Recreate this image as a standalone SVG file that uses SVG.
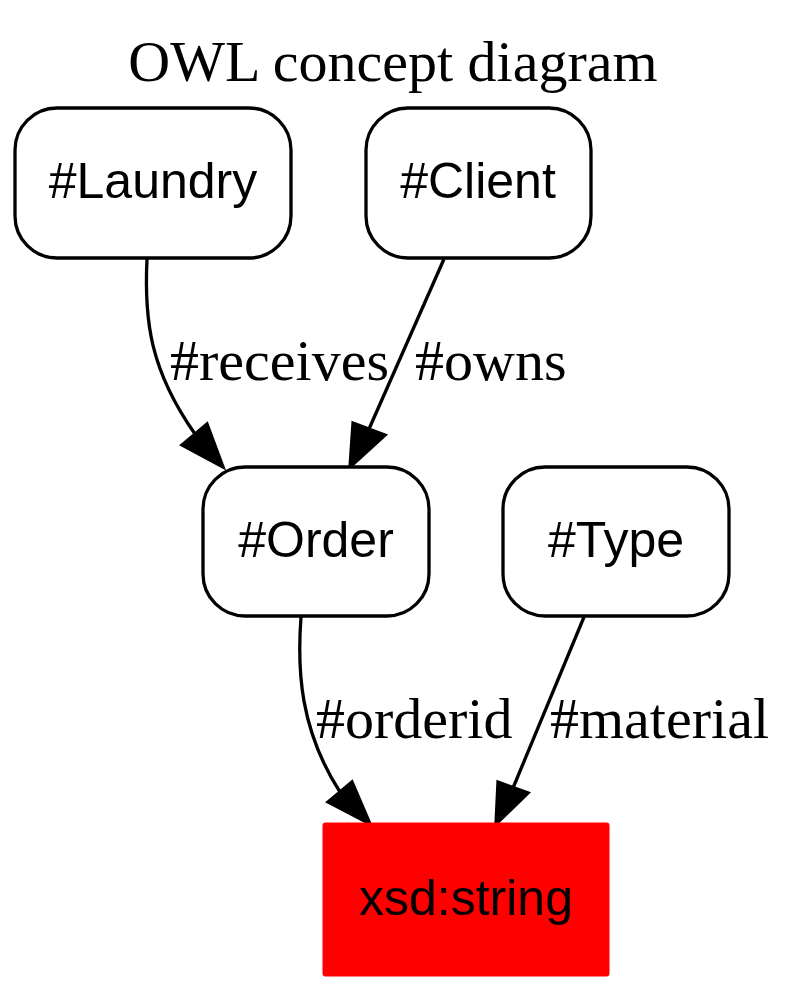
<svg xmlns="http://www.w3.org/2000/svg" width="787" height="992" viewBox="0 0 787 992">
<style>
.node{fill:#fff;stroke:#000;stroke-width:3.3}
.nl{font-family:"Liberation Sans",Arial,sans-serif;font-size:50px;text-anchor:middle;fill:#000}
.el{font-family:"Liberation Serif","Times New Roman",serif;font-size:58px;fill:#000}
.edge{fill:none;stroke:#000;stroke-width:3.3}
.ah{fill:#000;stroke:#000;stroke-width:3.3;stroke-linejoin:miter}
</style>
<rect width="787" height="992" fill="#fff"/>
<text x="393" y="81" class="el" text-anchor="middle">OWL concept diagram</text>
<g id="connectors">
<path class="edge" d="M147,259 C144,320 150,370 195,434"/>
<polygon class="ah" points="182,445 207,424 223,467"/>
<text class="el" x="170" y="380">#receives</text>
<path class="edge" d="M444,259 L369,429"/>
<polygon class="ah" points="353,423 385,435 350,467"/>
<text class="el" x="415" y="380">#owns</text>
<path class="edge" d="M301,617 C297,670 300,730 340,792"/>
<polygon class="ah" points="328,802 352,782 370,824"/>
<text class="el" x="316" y="738">#orderid</text>
<path class="edge" d="M584,617 L513,788"/>
<polygon class="ah" points="498,782 528,793 496,824"/>
<text class="el" x="550" y="738">#material</text>
</g>
<g id="laundry">
<rect class="node" x="15" y="108" width="276" height="150" rx="42"/>
<text class="nl" x="153" y="198">#Laundry</text>
</g>
<g id="client">
<rect class="node" x="366" y="108" width="225" height="150" rx="42"/>
<text class="nl" x="478" y="198">#Client</text>
</g>
<g id="order">
<rect class="node" x="203" y="467" width="226" height="149" rx="42"/>
<text class="nl" x="316" y="557">#Order</text>
</g>
<g id="type">
<rect class="node" x="503" y="467" width="226" height="149" rx="42"/>
<text class="nl" x="616" y="557">#Type</text>
</g>
<g id="xsdstring">
<rect x="323" y="823" width="286" height="153" rx="2" fill="#ff0000" stroke="#ff0000" stroke-width="1"/>
<text class="nl" x="466" y="915">xsd:string</text>
</g>
</svg>
